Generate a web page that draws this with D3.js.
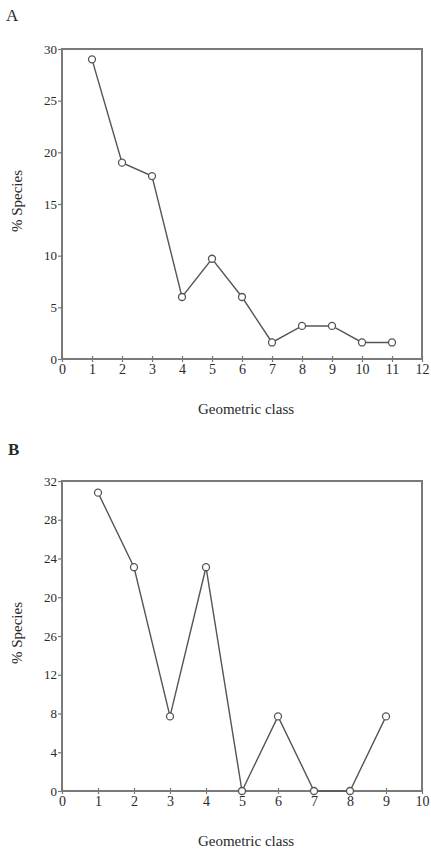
<!DOCTYPE html>
<html>
<head>
<meta charset="utf-8">
<script src="https://cdn.jsdelivr.net/npm/d3@7"></script>
<style>
body { margin:0; background:#fff; }
text { font-family:"Liberation Serif","DejaVu Serif",serif; fill:#2a2a2a; }
</style>
</head>
<body>
<script>
// panel A data
var classesA = [1,2,3,4,5,6,7,8,9,10,11];
var speciesA = [29.0,19.0,17.7,6.0,9.7,6.0,1.6,3.2,3.2,1.6,1.6];
var xTicksA = [0,1,2,3,4,5,6,7,8,9,10,11,12];
var yTicksA = [0,5,10,15,20,25,30];

// panel B data
var classesB = [1,2,3,4,5,6,7,8,9];
var speciesB = [30.8,23.1,7.7,23.1,0,7.7,0,0,7.7];
var xTicksB = [0,1,2,3,4,5,6,7,8,9,10];
var yTicksB = [0,4,8,12,16,20,24,28,32];
var yTickLabelsB = ["0","4","8","12","26","20","24","28","32"];

var svg = d3.select("body").append("svg")
    .attr("width",431)
    .attr("height",849)

var drawPanel = function(cfg)
{
    var xScale = d3.scaleLinear()
        .domain([0,cfg.xMax])
        .range([62,422]);
    var yScale = d3.scaleLinear()
        .domain([0,cfg.yMax])
        .range([cfg.bottom,cfg.top]);

    var g = svg.append("g");

    // panel letter
    g.append("text")
        .attr("x",cfg.letterX)
        .attr("y",cfg.letterY)
        .style("font-size","17px")
        .style("font-weight",cfg.letterBold ? "bold" : "normal")
        .text(cfg.letter);

    // frame
    g.append("rect")
        .attr("x",xScale(0))
        .attr("y",yScale(cfg.yMax))
        .attr("width",xScale(cfg.xMax)-xScale(0))
        .attr("height",yScale(0)-yScale(cfg.yMax))
        .attr("fill","none")
        .attr("stroke","#7a7a7a")
        .attr("stroke-width",2);

    var xAxis = d3.axisBottom(xScale)
        .tickValues(cfg.xTicks)
        .tickSize(3)
        .tickPadding(2)
        .tickFormat(d3.format("d"));
    var yAxis = d3.axisLeft(yScale)
        .tickValues(cfg.yTicks)
        .tickSize(4)
        .tickPadding(1)
        .tickFormat(function(d,i){ return cfg.yLabels[i]; });

    var xg = g.append("g")
        .attr("transform","translate(0,"+yScale(0)+")")
        .call(xAxis);
    var yg = g.append("g")
        .attr("transform","translate("+xScale(0)+",0)")
        .call(yAxis);

    [xg,yg].forEach(function(a){
        a.select(".domain").remove();
        a.selectAll("line").attr("stroke","#777").attr("stroke-width",1.2);
        a.selectAll("text").style("font-size","14px").style("fill","#2a2a2a");
    });
    xg.selectAll("line").attr("y1",-3);
    yg.selectAll("text").style("font-size","13px");

    // axis titles
    g.append("text")
        .attr("x",(xScale(0)+xScale(cfg.xMax))/2+4)
        .attr("y",yScale(0)+55)
        .attr("text-anchor","middle")
        .style("font-size","15px")
        .text("Geometric class");
    g.append("text")
        .attr("transform","translate(22,"+((yScale(0)+yScale(cfg.yMax))/2-3)+") rotate(-90)")
        .attr("text-anchor","middle")
        .style("font-size","15px")
        .text("% Species");

    var pts = cfg.classes.map(function(c,i){ return {x:c,y:cfg.values[i]}; });

    var lineGenerator = d3.line()
        .x(function(d){ return xScale(d.x); })
        .y(function(d){ return yScale(d.y); });

    g.append("path")
        .datum(pts)
        .attr("d",lineGenerator)
        .attr("fill","none")
        .attr("stroke","#555")
        .attr("stroke-width",1.4);

    g.selectAll("circle.pt")
        .data(pts)
        .enter()
        .append("circle")
        .attr("class","pt")
        .attr("cx",function(d){ return xScale(d.x); })
        .attr("cy",function(d){ return yScale(d.y); })
        .attr("r",3.5)
        .attr("fill","#fff")
        .attr("stroke","#555")
        .attr("stroke-width",1.3);
}

drawPanel({letter:"A",letterX:6,letterY:21,letterBold:false,
    classes:classesA,values:speciesA,xTicks:xTicksA,yTicks:yTicksA,
    yLabels:yTicksA.map(String),xMax:12,yMax:30,top:49,bottom:359});

drawPanel({letter:"B",letterX:8,letterY:455,letterBold:true,
    classes:classesB,values:speciesB,xTicks:xTicksB,yTicks:yTicksB,
    yLabels:yTickLabelsB,xMax:10,yMax:32,top:481,bottom:791});
</script>
</body>
</html>
